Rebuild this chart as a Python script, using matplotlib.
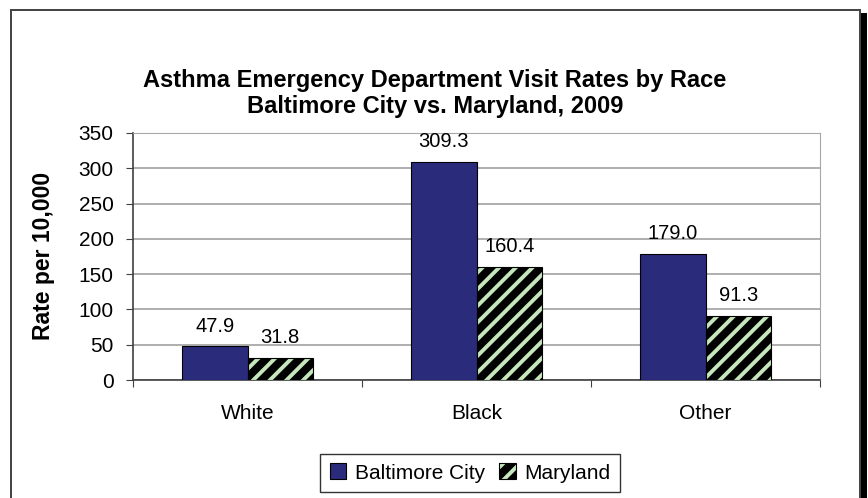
import matplotlib
matplotlib.use('Agg')
import matplotlib.pyplot as plt
from matplotlib.patches import Rectangle, Patch
import numpy as np

categories = ['White', 'Black', 'Other']
baltimore = [47.9, 309.3, 179.0]
maryland = [31.8, 160.4, 91.3]
series_names = ['Baltimore City', 'Maryland']
title_lines = ['Asthma Emergency Department Visit Rates by Race',
               'Baltimore City vs. Maryland, 2009']
y_label = 'Rate per 10,000'

plt.rcParams['font.family'] = ['Liberation Sans', 'DejaVu Sans']
plt.rcParams['hatch.linewidth'] = 2.8

navy = '#2b2b7c'
pale_green = '#c6e6bc'

W, H = 868, 498
fig = plt.figure(figsize=(W / 100, H / 100), dpi=100)

# outer chart frame with shadow on the right
fig.patches.append(Rectangle((861 / W, 0), 6 / W, 1 - 13 / H, transform=fig.transFigure,
                             facecolor='black', edgecolor='none', zorder=0))
fig.patches.append(Rectangle((11 / W, -0.01), 849 / W, 1.01 - 10 / H, transform=fig.transFigure,
                             facecolor='white', edgecolor='#404040', lw=1.4, zorder=1))

ax = fig.add_axes([133 / W, 1 - 380 / H, (820 - 133) / W, (380 - 133) / H])
ax.set_facecolor('white')
ax.set_zorder(2)

x = np.arange(len(categories))
bw = 0.286
b1 = ax.bar(x - bw / 2, baltimore, bw, color=navy, edgecolor='black', lw=0.8, zorder=3)
b2 = ax.bar(x + bw / 2, maryland, bw, facecolor='black', edgecolor=pale_green,
            hatch='//', lw=0, zorder=3)
ax.bar(x + bw / 2, maryland, bw, fill=False, edgecolor='black', lw=0.8, zorder=4)

for bars, vals in [(b1, baltimore), (b2, maryland)]:
    for rect, v in zip(bars, vals):
        ax.annotate(f'{v:.1f}', (rect.get_x() + rect.get_width() / 2, v),
                    xytext=(0, 10.5), textcoords='offset points',
                    ha='center', va='baseline', fontsize=14.5)

ax.set_ylim(0, 350)
ax.set_xlim(-0.5, len(categories) - 0.5)
ax.set_yticks(np.arange(0, 351, 50))
ax.yaxis.grid(True, color='#a8a8a8', lw=1.3, zorder=0)
ax.set_axisbelow(True)

# ticks between categories, labels centred under them
ax.set_xticks(np.arange(len(categories) + 1) - 0.5)
ax.set_xticklabels([])
ax.set_xticks(x, minor=True)
ax.set_xticklabels(categories, minor=True)
ax.tick_params(axis='x', which='major', direction='out', length=5, color='#404040')
ax.tick_params(axis='x', which='minor', length=0, pad=17, labelsize=15)
ax.tick_params(axis='y', direction='out', length=5, color='#404040', pad=9, labelsize=15)

for s in ['left', 'bottom']:
    ax.spines[s].set_color('#404040')
    ax.spines[s].set_linewidth(1.2)
ax.spines['right'].set_color('#a8a8a8')
ax.spines['top'].set_color('#a8a8a8')

fig.text(44 / W, 1 - 256 / H, y_label, rotation=90, ha='center', va='center',
         fontsize=16.5, fontweight='bold')
fig.text(435 / W, 1 - 81 / H, title_lines[0], ha='center', va='center',
         fontsize=17, fontweight='bold')
fig.text(435 / W, 1 - 107 / H, title_lines[1], ha='center', va='center',
         fontsize=17, fontweight='bold')

handles = [Patch(facecolor=navy, edgecolor='black', lw=0.8),
           (Patch(facecolor='black', edgecolor=pale_green, hatch='//', lw=0),
            Patch(fill=False, edgecolor='black', lw=0.8))]
leg = fig.legend(handles, series_names, loc='center', bbox_to_anchor=(470 / W, 1 - 473 / H),
                 ncol=2, fontsize=15, frameon=True, fancybox=False, edgecolor='black',
                 handlelength=0.8, handleheight=0.8, handletextpad=0.4, columnspacing=0.7,
                 borderpad=0.45)
leg.get_frame().set_linewidth(1.0)
leg.set_zorder(5)

fig.savefig('out.png', dpi=100)
